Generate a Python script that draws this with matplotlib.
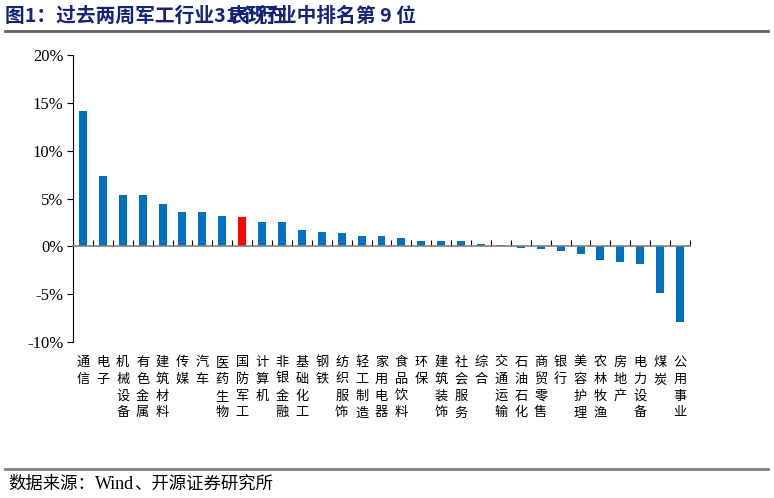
import matplotlib
matplotlib.use("Agg")
import matplotlib.pyplot as plt
from matplotlib.lines import Line2D
from matplotlib.ticker import FuncFormatter, MultipleLocator
import matplotlib.transforms as mtransforms

plt.rcParams['font.family'] = ['Noto Sans CJK SC', 'DejaVu Sans']

industries = ['通信', '电子', '机械设备', '有色金属', '建筑材料', '传媒', '汽车', '医药生物',
              '国防军工', '计算机', '非银金融', '基础化工', '钢铁', '纺织服饰', '轻工制造',
              '家用电器', '食品饮料', '环保', '建筑装饰', '社会服务', '综合', '交通运输',
              '石油石化', '商贸零售', '银行', '美容护理', '农林牧渔', '房地产', '电力设备',
              '煤炭', '公用事业']
returns = [14.1, 7.4, 5.35, 5.35, 4.43, 3.56, 3.56, 3.18,
           3.07, 2.55, 2.52, 1.71, 1.47, 1.36, 1.13,
           1.1, 0.85, 0.6, 0.55, 0.55, 0.28, 0.18,
           -0.2, -0.28, -0.45, -0.84, -1.43, -1.6, -1.88,
           -4.9, -7.9]
highlight = '国防军工'

fig = plt.figure(figsize=(7.74, 4.98), dpi=100)
ax = fig.add_axes([73/774, 1 - 342/498, (690-73)/774, (342-55)/498])

x = list(range(len(industries)))
colors = ['#FF0000' if n == highlight else '#0070C0' for n in industries]
ax.bar(x, returns, width=0.4, color=colors, zorder=3)

ax.set_xlim(-0.5, len(industries) - 0.5)
ax.set_ylim(-10, 20)
ax.yaxis.set_major_locator(MultipleLocator(5))
ax.yaxis.set_major_formatter(FuncFormatter(lambda v, p: f'{v:.0f}%'))
for lab in ax.get_yticklabels():
    lab.set_family('Liberation Serif')
    lab.set_fontsize(12)
ax.tick_params(axis='y', direction='out', length=4, width=0.8, pad=3)

for s in ['top', 'right']:
    ax.spines[s].set_visible(False)
ax.spines['left'].set_color('black')
ax.spines['left'].set_linewidth(0.8)
ax.spines['bottom'].set_position(('data', 0))
ax.spines['bottom'].set_color('#808080')
ax.spines['bottom'].set_linewidth(1.2)
ax.spines['bottom'].set_zorder(4)

ax.set_xticks([i + 0.5 for i in x])
ax.set_xticklabels([])
ax.tick_params(axis='x', direction='in', length=4, width=0.8, color='black')

trans = mtransforms.blended_transform_factory(ax.transData, fig.transFigure)
for i, name in enumerate(industries):
    ax.text(i, 1 - 356/498, '\n'.join(name), transform=trans, ha='center', va='top',
            fontsize=9.5, linespacing=1.38, family='Noto Sans CJK SC')

# title: the source image has two strings drawn over each other
title_color = '#14237A'
fig.text(5/774, 1 - 16/498, '图1：过去两周军工行业31个行业中排名第 9 位', ha='left', va='center',
         fontsize=14.2, fontweight='bold', color=title_color)
fig.text(229/774, 1 - 16/498, '表现在', ha='left', va='center',
         fontsize=14.2, fontweight='bold', color=title_color)

fig.add_artist(Line2D([5/774, 768/774], [1 - 31/498, 1 - 31/498], color='#606060', lw=2))
fig.add_artist(Line2D([5/774, 768/774], [1 - 469/498, 1 - 469/498], color='#808080', lw=2))

fig.text(8/774, 1 - 484/498, '数据来源：', ha='left', va='center', fontsize=12.5,
         family='Noto Sans CJK SC')
fig.text(95/774, 1 - 484/498, 'Wind', ha='left', va='center', fontsize=13,
         family='Liberation Serif')
fig.text(134/774, 1 - 484/498, '、开源证券研究所', ha='left', va='center', fontsize=12.5,
         family='Noto Sans CJK SC')

fig.savefig('out.png', dpi=100)
